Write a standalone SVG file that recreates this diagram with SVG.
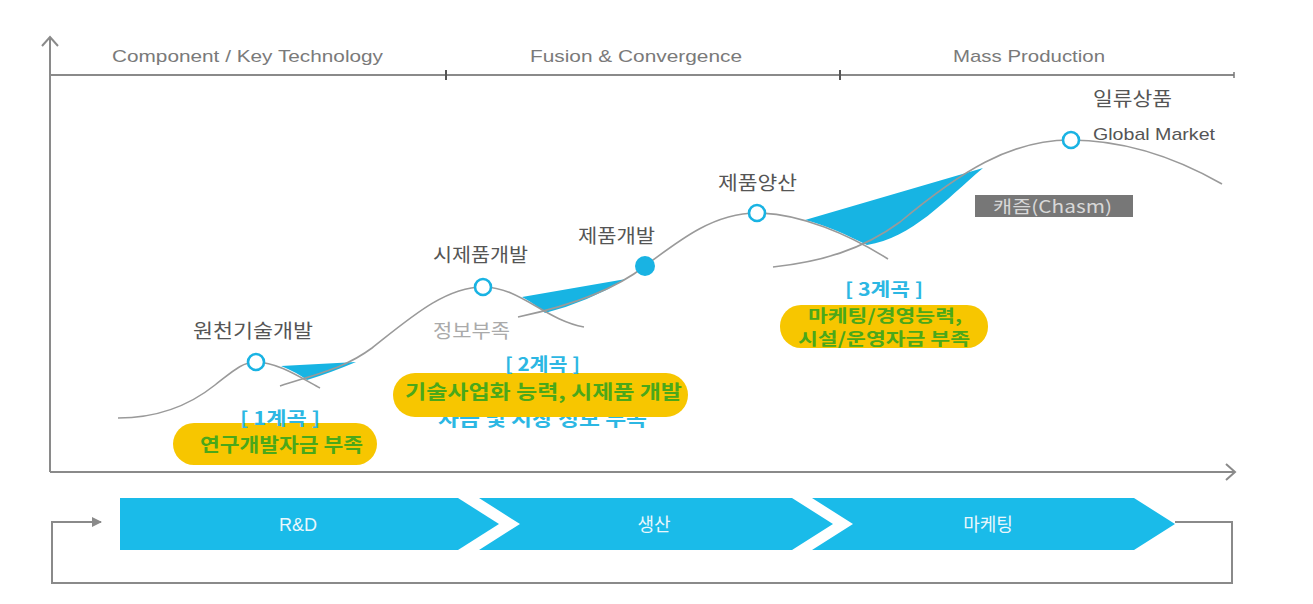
<svg xmlns="http://www.w3.org/2000/svg" width="1313" height="604" viewBox="0 0 1313 604">
<style>
.axis{stroke:#8a8a8a;stroke-width:2;fill:none}
.curve{stroke:#9a9a9a;stroke-width:1.6;fill:none}
.fill{fill:#17b4e3;stroke:none}
.ring{fill:#fff;stroke:#19b3e3;stroke-width:2.6}
.hdr{font-family:"Liberation Sans",Arial,sans-serif;font-size:17px;fill:#7a7a7a}
.lbl{font-family:"Noto Sans CJK KR","Liberation Sans",sans-serif;font-size:19px;fill:#555}
.gray{font-family:"Noto Sans CJK KR","Liberation Sans",sans-serif;font-size:19px;fill:#aaa}
.cyan{font-family:"Noto Sans CJK KR","Liberation Sans",sans-serif;font-size:18px;font-weight:700;fill:#2cb7e3}
.pill{fill:#f7c600}
.grn{font-family:"Noto Sans CJK KR","Liberation Sans",sans-serif;font-size:19px;font-weight:700;fill:#4aa81a}
.grn2{font-family:"Noto Sans CJK KR","Liberation Sans",sans-serif;font-size:17px;font-weight:700;fill:#4aa81a}
.bar{fill:#1abbe9}
.bartxt{font-family:"Noto Sans CJK KR","Liberation Sans",sans-serif;font-size:18px;fill:#eaf7fc;text-anchor:middle}
</style>
<defs>
<marker id="tri" viewBox="0 0 10 10" refX="9" refY="5" markerWidth="10" markerHeight="10" markerUnits="userSpaceOnUse" orient="auto">
<path d="M0,0 L10,5 L0,10 Z" fill="#8a8a8a"/>
</marker>
</defs>

<g id="axes">
<line class="axis" x1="50" y1="37" x2="50" y2="472"/>
<polyline class="axis" points="42,46 50,37 58,46" stroke-width="1.5"/>
<line class="axis" x1="50" y1="472" x2="1235" y2="472"/>
<polyline class="axis" points="1226,464 1235,472 1226,480" stroke-width="1.5"/>
<line class="axis" x1="50" y1="75" x2="1234" y2="75"/>
<line x1="446" y1="70" x2="446" y2="80" stroke="#555" stroke-width="2"/>
<line x1="840" y1="70" x2="840" y2="80" stroke="#555" stroke-width="2"/>
<line x1="1234" y1="72" x2="1234" y2="78" stroke="#777" stroke-width="1.5"/>
</g>

<g id="headers">
<text class="hdr" x="112" y="62" textLength="271" lengthAdjust="spacingAndGlyphs">Component / Key Technology</text>
<text class="hdr" x="530" y="62" textLength="212" lengthAdjust="spacingAndGlyphs">Fusion &amp; Convergence</text>
<text class="hdr" x="953" y="62" textLength="152" lengthAdjust="spacingAndGlyphs">Mass Production</text>
</g>

<g id="valleys">
<path class="fill" d="M281,366 L356,362 Q330,373 307,380 Q296,372 281,366 Z"/>
<path class="fill" d="M522,297 L626,279 Q588,302 545,313 Q535,304 522,297 Z"/>
<path class="fill" d="M805,220 L983,168 C945,200 912,238 867,245 C845,234 825,225 805,220 Z"/>
</g>

<g id="connectors">
<path class="curve" d="M118,418 C160,418 190,405 215,385 C232,372 242,362 256,362 C276,362 298,376 320,388"/>
<path class="curve" d="M280,386 C320,373 345,368 372,348 C410,318 445,287 483,287 C520,287 545,320 584,327"/>
<path class="curve" d="M518,317 C565,307 612,292 645,266 C682,238 715,213 757,213 C800,213 850,235 888,259"/>
<path class="curve" d="M773,267 C820,262 862,250 900,222 C960,172 1010,140 1070,140 C1130,140 1180,160 1222,184"/>
</g>

<g id="node-wonchun">
<circle class="ring" cx="256" cy="362" r="8"/>
<text class="lbl" x="193" y="338" textLength="120" lengthAdjust="spacingAndGlyphs">원천기술개발</text>
</g>
<g id="node-sijepum">
<circle class="ring" cx="483" cy="287" r="8"/>
<text class="lbl" x="433" y="262" textLength="95" lengthAdjust="spacingAndGlyphs">시제품개발</text>
<text class="gray" x="433" y="338" textLength="77" lengthAdjust="spacingAndGlyphs">정보부족</text>
</g>
<g id="node-jepum">
<circle cx="645" cy="266" r="10" fill="#19b3e3"/>
<text class="lbl" x="578" y="243" textLength="77" lengthAdjust="spacingAndGlyphs">제품개발</text>
</g>
<g id="node-yangsan">
<circle class="ring" cx="757" cy="213" r="8"/>
<text class="lbl" x="718" y="190" textLength="79" lengthAdjust="spacingAndGlyphs">제품양산</text>
</g>
<g id="node-global">
<circle class="ring" cx="1071" cy="140" r="8"/>
<text class="lbl" x="1093" y="106" textLength="79" lengthAdjust="spacingAndGlyphs">일류상품</text>
<text class="lbl" x="1093" y="140" style="font-family:'Liberation Sans',Arial,sans-serif;font-size:17px" textLength="122" lengthAdjust="spacingAndGlyphs">Global Market</text>
</g>
<g id="chasm">
<rect x="975" y="195" width="158" height="22" fill="#777"/>
<text x="993" y="213" style="font-family:'Noto Sans CJK KR','Liberation Sans',sans-serif;font-size:17px;fill:#d8d8d8" textLength="119" lengthAdjust="spacingAndGlyphs">캐즘(Chasm)</text>
</g>

<g id="valley1">
<rect class="pill" x="173" y="423" width="204" height="42" rx="21"/>
<text class="cyan" x="240" y="425" textLength="80" lengthAdjust="spacingAndGlyphs">[ 1계곡 ]</text>
<text class="grn" x="200" y="452" textLength="163" lengthAdjust="spacingAndGlyphs">연구개발자금 부족</text>
</g>
<g id="valley2">
<text class="cyan" x="438" y="426" style="font-size:19px" textLength="209" lengthAdjust="spacingAndGlyphs">자금 및 시장 정보 부족</text>
<rect class="pill" x="393" y="373" width="295" height="44" rx="22"/>
<text class="cyan" x="505" y="371" textLength="75" lengthAdjust="spacingAndGlyphs">[ 2계곡 ]</text>
<text class="grn" x="405" y="399" textLength="277" lengthAdjust="spacingAndGlyphs">기술사업화 능력, 시제품 개발</text>
</g>
<g id="valley3">
<text class="cyan" x="845" y="296" textLength="78" lengthAdjust="spacingAndGlyphs">[ 3계곡 ]</text>
<rect class="pill" x="780" y="305" width="208" height="43" rx="21"/>
<text class="grn2" x="808" y="322" textLength="154" lengthAdjust="spacingAndGlyphs">마케팅/경영능력,</text>
<text class="grn2" x="798" y="345" textLength="172" lengthAdjust="spacingAndGlyphs">시설/운영자금 부족</text>
</g>

<g id="process">
<path class="bar" d="M120,498 H458 L499,524 L458,550 H120 Z"/>
<path class="bar" d="M479,498 H792 L833,524 L792,550 H479 L520,524 Z"/>
<path class="bar" d="M812,498 H1134 L1175,524 L1134,550 H812 L853,524 Z"/>
<text class="bartxt" x="298" y="531" style="font-family:'Liberation Sans',Arial,sans-serif">R&amp;D</text>
<text class="bartxt" x="654" y="531">생산</text>
<text class="bartxt" x="988" y="531">마케팅</text>
</g>
<g id="loop">
<path d="M1175,522 H1232 V583 H52 V522 H101" fill="none" stroke="#8a8a8a" stroke-width="2" marker-end="url(#tri)"/>
</g>
</svg>
